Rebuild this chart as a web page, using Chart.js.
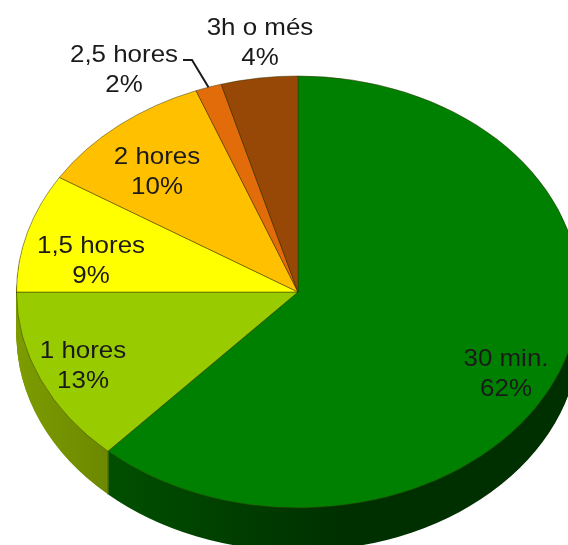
<!DOCTYPE html>
<html lang="ca">
<head>
<meta charset="UTF-8">
<title>Temps</title>
<script src="https://cdn.jsdelivr.net/npm/chart.js"></script>
<style>
    html, body { margin: 0; padding: 0; background: #fff; overflow: hidden; width: 568px; height: 545px; }
    #wrap { width: 568px; height: 545px; overflow: hidden; position: relative; }
    canvas { display: block; filter: blur(0.45px); }
</style>
</head>
<body>
<div id="wrap"><canvas id="pie" width="596" height="584"></canvas></div>
<script>
const categories = ['30 min.', '1 hores', '1,5 hores', '2 hores', '2,5 hores', '3h o més'];
const sliceValues = [61.8, 13.2, 8.9, 10.2, 1.5, 4.4];
const percentLabels = ['62%', '13%', '9%', '10%', '2%', '4%'];
const topColors = ['#008000', '#99CC00', '#FFFF00', '#FFC000', '#E36C0A', '#974806'];
const sideLeft = ['#004f00', '#7c9c00', '#4a4a00', '#806000', '#713605', '#4b2403'];
const sideRight = ['#003000', '#698500', '#4a4a00', '#806000', '#713605', '#4b2403'];

// squash the round pie into the tilted ellipse
const tilt = 216 / 281.5;
const depth = 43;

// label centres, first text line
const labelSpots = [[506, 359], [83, 351], [91, 246], [157, 157], [124, 55], [260, 28]];
const lineGap = 30;
const textStretch = 1.08;

function squash(ctx, arc, dy) {
    ctx.translate(0, arc.y + dy);
    ctx.scale(1, tilt);
    ctx.translate(0, -arc.y);
}

function stretchedText(ctx, text, x, y) {
    ctx.save();
    ctx.translate(x, y);
    ctx.scale(textStretch, 1);
    ctx.fillText(text, 0, 0);
    ctx.restore();
}

const pie3d = {
    id: 'pie3d',
    beforeDatasetsDraw(chart) {
        const ctx = chart.ctx;
        const arcs = chart.getDatasetMeta(0).data;
        const first = arcs[0];
        const r = first.outerRadius;
        const fills = arcs.map((a, i) => {
            const g = ctx.createLinearGradient(first.x - r, 0, first.x + 40, 0);
            if (i === 0) {
                g.addColorStop(0.3, sideLeft[i]);
                g.addColorStop(1, sideRight[i]);
            } else {
                g.addColorStop(0, sideLeft[i]);
                g.addColorStop(0.33, sideRight[i]);
            }
            return g;
        });

        // walls: the same arcs stacked from the bottom up
        for (let dy = depth; dy > 0; dy--) {
            arcs.forEach((a, i) => {
                const saved = a.options;
                a.options = {
                    backgroundColor: fills[i], borderColor: 'transparent', borderWidth: 0,
                    borderAlign: 'center', borderRadius: 0, spacing: 0, offset: 0, circular: true
                };
                ctx.save();
                squash(ctx, a, dy);
                a.draw(ctx);
                ctx.restore();
                a.options = saved;
            });
        }

        // seam between the two visible walls
        const seam = first.endAngle;
        const sx = first.x + r * Math.cos(seam);
        const sy = first.y + r * tilt * Math.sin(seam);
        ctx.save();
        ctx.strokeStyle = '#5a6b00';
        ctx.lineWidth = 1;
        ctx.beginPath();
        ctx.moveTo(sx, sy);
        ctx.lineTo(sx, sy + depth);
        ctx.stroke();
        ctx.restore();

        ctx.save();
        squash(ctx, first, 0);
    },
    afterDatasetsDraw(chart) {
        const ctx = chart.ctx;
        ctx.restore();

        // leader line of the small slice
        const arc = chart.getDatasetMeta(0).data[4];
        const mid = (arc.startAngle + arc.endAngle) / 2;
        const ex = arc.x + arc.outerRadius * Math.cos(mid);
        const ey = arc.y + arc.outerRadius * tilt * Math.sin(mid);
        ctx.save();
        ctx.strokeStyle = '#1a1a1a';
        ctx.lineWidth = 2;
        ctx.beginPath();
        ctx.moveTo(183, 60);
        ctx.lineTo(192, 60);
        ctx.lineTo(ex, ey);
        ctx.stroke();

        ctx.font = '24px "Liberation Sans", Arial, sans-serif';
        ctx.textAlign = 'center';
        ctx.textBaseline = 'middle';
        ctx.fillStyle = '#1a1a1a';
        categories.forEach((name, i) => {
            const [x, y] = labelSpots[i];
            stretchedText(ctx, name, x, y);
            stretchedText(ctx, percentLabels[i], x, y + lineGap);
        });
        ctx.restore();
    }
};

new Chart(document.getElementById('pie'), {
    type: 'pie',
    data: {
        labels: categories,
        datasets: [{
            data: sliceValues,
            backgroundColor: topColors,
            borderColor: 'rgba(50, 50, 0, 0.55)',
            borderWidth: 1,
            clip: false
        }]
    },
    options: {
        responsive: false,
        animation: false,
        layout: { padding: { left: 16, right: 16, top: 10, bottom: 10 } },
        plugins: { legend: { display: false }, tooltip: { enabled: false } }
    },
    plugins: [pie3d]
});
</script>
</body>
</html>
